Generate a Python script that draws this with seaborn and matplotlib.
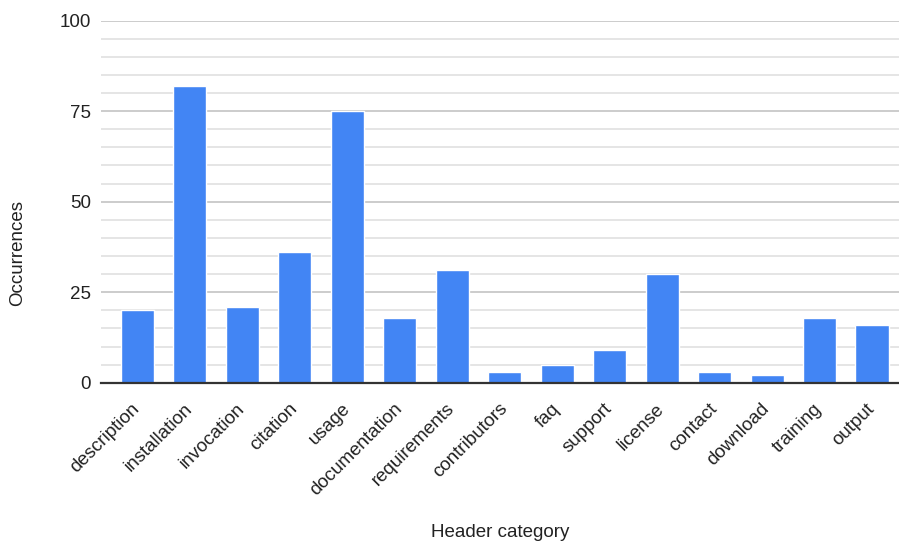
import matplotlib
matplotlib.use("Agg")
import matplotlib.pyplot as plt
from matplotlib.ticker import MultipleLocator
import seaborn as sns
import pandas as pd

categories = ["description", "installation", "invocation", "citation", "usage",
              "documentation", "requirements", "contributors", "faq", "support",
              "license", "contact", "download", "training", "output"]
occurrences = [20, 82, 21, 36, 75, 18, 31, 3, 5, 9, 30, 3, 2, 18, 16]
y_ticks = [0, 25, 50, 75, 100]

df = pd.DataFrame({"Header category": categories, "Occurrences": occurrences})

sns.set_style("white")
plt.rcParams["font.family"] = ["Liberation Sans", "DejaVu Sans"]
FS = 13.5

fig = plt.figure(figsize=(8.99, 5.43), dpi=100)
ax = fig.add_axes([0.1123, 0.2952, 0.8877, 0.6667])

sns.barplot(data=df, x="Header category", y="Occurrences", color="#4285F4",
            saturation=1, width=0.63, ax=ax, zorder=3)

ax.set_ylim(0, 100)
ax.set_xlim(-0.696, 14.515)
ax.set_yticks(y_ticks)
ax.yaxis.set_minor_locator(MultipleLocator(5))
ax.grid(axis="y", which="major", color="#c8c8c8", linewidth=1.3, zorder=0)
ax.grid(axis="y", which="minor", color="#e3e3e3", linewidth=1.3, zorder=0)
ax.set_axisbelow(True)

for side in ["top", "right", "left"]:
    ax.spines[side].set_visible(False)
ax.spines["bottom"].set_color("#333333")
ax.spines["bottom"].set_linewidth(1.6)
ax.spines["bottom"].set_zorder(4)

ax.tick_params(axis="y", which="both", length=0, pad=7, labelsize=FS, labelcolor="#222222")
ax.tick_params(axis="x", length=0, pad=17, labelsize=FS, labelcolor="#222222")
for lbl in ax.get_xticklabels():
    lbl.set_rotation(45)
    lbl.set_ha("right")
    lbl.set_va("center")
    lbl.set_rotation_mode("anchor")

ax.set_ylabel("Occurrences", fontsize=FS, color="#222222")
ax.yaxis.set_label_coords(-0.105, 0.359)
ax.yaxis.label.set_va("center")
ax.set_xlabel("Header category", fontsize=FS, color="#222222")
ax.xaxis.set_label_coords(0.5, -0.415)
ax.xaxis.label.set_va("center")

fig.savefig("out.png", dpi=100)
